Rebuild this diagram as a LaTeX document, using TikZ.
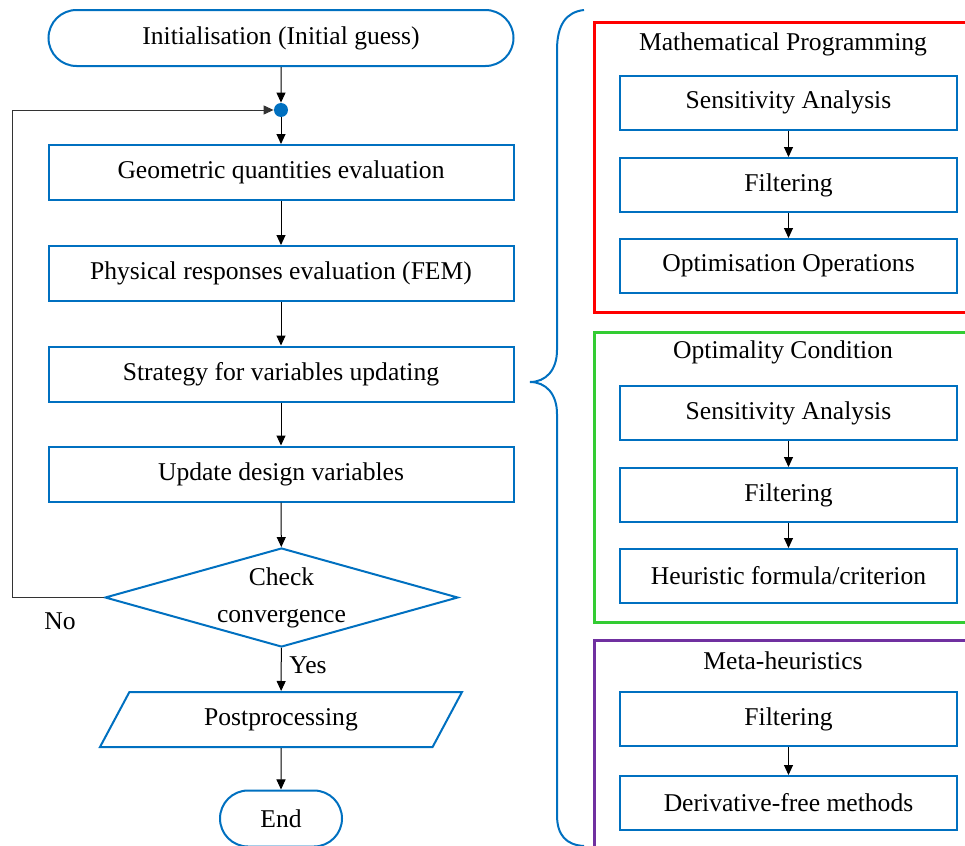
\documentclass[tikz,border=0pt]{standalone}
\usepackage{fontspec}
\setmainfont{Liberation Serif}
\usetikzlibrary{arrows.meta,shapes.geometric,shapes.misc}
\definecolor{boxblue}{RGB}{0,112,192}
\definecolor{mpred}{RGB}{255,0,0}
\definecolor{ocgreen}{RGB}{51,204,51}
\definecolor{mhpurple}{RGB}{112,48,160}

\begin{document}
\begin{tikzpicture}[x=0.5pt,y=-0.5pt,
 font=\fontsize{12.8}{14.5}\selectfont,
 flowbox/.style={draw=boxblue,line width=1pt,rectangle,minimum width=232.5pt,minimum height=27.5pt,inner sep=0pt},
 subbox/.style={draw=boxblue,line width=1pt,rectangle,minimum width=168.5pt,minimum height=27pt,inner sep=0pt},
 terminal/.style={draw=boxblue,line width=1pt,rounded rectangle,minimum height=28pt,inner sep=0pt},
 flowarrow/.style={-{Triangle[length=5pt,width=4.5pt]},line width=0.5pt}]
 \path[use as bounding box] (0,0) rectangle (965,846);

\node[terminal,minimum width=232.5pt] (init) at (281,38) {Initialisation (Initial guess)};
\node[circle,fill=boxblue,inner sep=0pt,minimum size=7pt] (junct) at (281,110) {};
\node[flowbox] (geom) at (281,172.5) {Geometric quantities evaluation};
\node[flowbox] (phys) at (281,273.5) {Physical responses evaluation (FEM)};
\node[flowbox] (strat) at (281,374) {Strategy for variables updating};
\node[flowbox] (update) at (281,474) {Update design variables};
\node[diamond,draw=boxblue,line width=1pt,aspect=3.57,minimum width=176.5pt,minimum height=49.5pt,inner sep=0pt,align=center,font=\fontsize{12.8}{18.5}\selectfont] (check) at (281.5,597.5) {Check\\convergence};
\node[trapezium,trapezium left angle=37.4,trapezium right angle=142.6,trapezium stretches body,draw=boxblue,line width=1pt,minimum width=181pt,minimum height=27.5pt,inner sep=0pt] (post) at (281,719.5) {Postprocessing};
\node[terminal,minimum width=61pt] (end) at (281,818.5) {End};

\coordinate (loop) at (12,110);
\node (no) at (60,621) {No};
\node (yes) at (308,665) {Yes};

\draw[flowarrow] (init) -- (junct);
\draw[flowarrow] (junct) -- (geom);
\draw[flowarrow] (geom) -- (phys);
\draw[flowarrow] (phys) -- (strat);
\draw[flowarrow] (strat) -- (update);
\draw[flowarrow] (update) -- (check);
\draw[flowarrow] (check) -- (post);
\draw[flowarrow] (post) -- (end);
\draw[flowarrow,draw=black!80] (check.west) -| (loop) -- (junct);

\draw[boxblue,line width=1pt] (584,10) .. controls (566,12) and (557,25) .. (557,50) -- (557,350) .. controls (557,370) and (546,382) .. (530,382) .. controls (546,382) and (557,394) .. (557,414) -- (557,815) .. controls (557,835) and (566,845) .. (584,846);

\draw[mpred,line width=1.5pt] (965,22) -| (594,312) -- (965,312);
\draw[ocgreen,line width=1.5pt] (965,332) -| (594,622) -- (965,622);
\draw[mhpurple,line width=1.5pt] (965,640) -| (594,846);

\node (mptitle) at (783,44) {Mathematical Programming};
\node[subbox] (mpsens) at (788.5,102.5) {Sensitivity Analysis};
\node[subbox] (mpfilt) at (788.5,185) {Filtering};
\node[subbox] (mpopt) at (788.5,266) {Optimisation Operations};

\node (octitle) at (783,352) {Optimality Condition};
\node[subbox] (ocsens) at (788.5,413) {Sensitivity Analysis};
\node[subbox] (ocfilt) at (788.5,495) {Filtering};
\node[subbox] (ocheur) at (788.5,576) {Heuristic formula/criterion};

\node (mhtitle) at (783,661) {Meta-heuristics};
\node[subbox] (mhfilt) at (788.5,719) {Filtering};
\node[subbox] (mhfree) at (788.5,803) {Derivative-free methods};

\foreach \a/\b in {mpsens/mpfilt, mpfilt/mpopt, ocsens/ocfilt, ocfilt/ocheur, mhfilt/mhfree}
	\draw[flowarrow] (\a) -- (\b);

\end{tikzpicture}
\end{document}
